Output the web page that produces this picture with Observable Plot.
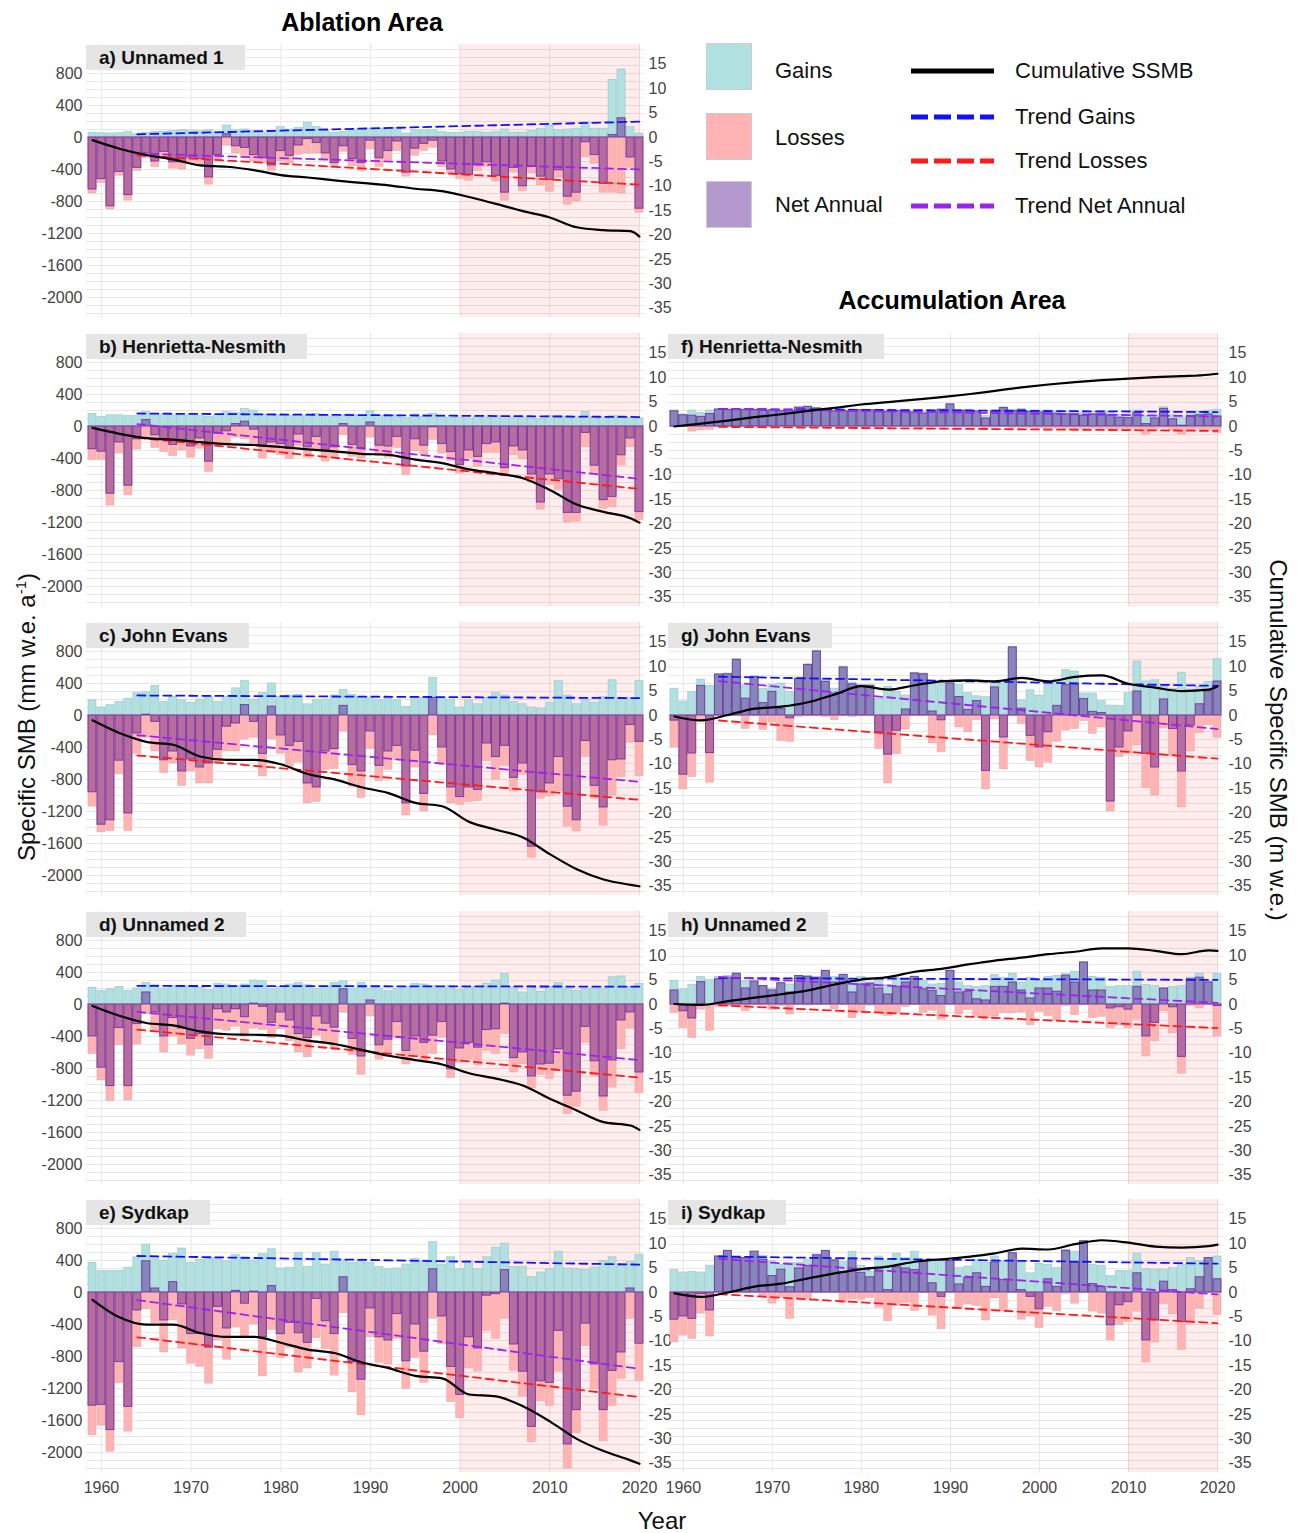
<!DOCTYPE html>
<html><head><meta charset="utf-8">
<script src="https://cdn.jsdelivr.net/npm/d3@7"></script>
<script src="https://cdn.jsdelivr.net/npm/@observablehq/plot@0.6"></script>
<style>
body{margin:0;background:#fff;}
#root{position:relative;width:1299px;height:1533px;font-family:"Liberation Sans",Arial,sans-serif;overflow:hidden;background:#fff;}
.pan{position:absolute;}
.strip{position:absolute;background:#e5e5e5;font-weight:bold;font-size:19px;line-height:25px;height:25px;padding:0 21px 0 13px;color:#111;white-space:nowrap;}
.title{position:absolute;font-weight:bold;font-size:25px;transform:translate(-50%,-50%);white-space:nowrap;color:#000;}
.axt{position:absolute;font-size:24px;white-space:nowrap;color:#111;}
.lg{position:absolute;font-size:22px;color:#111;white-space:nowrap;transform:translateY(-50%);}
.sq{position:absolute;width:46px;height:47px;box-sizing:border-box;border:1px solid #ccc;}
</style></head>
<body><div id="root"></div>
<script>
// ---------- data ----------
const YEARS = d3.range(1959, 2021);
const CUM_YEARS = [1959,1962,1965,1968,1971,1974,1977,1980,1983,1986,1989,1992,1995,1998,2001,2004,2007,2010,2013,2016,2019,2020];
const TREND_YEARS = [1964, 2020];
const LEFT_TICKS = [800,400,0,-400,-800,-1200,-1600,-2000];
const RIGHT_TICKS = [15,10,5,0,-5,-10,-15,-20,-25,-30,-35];
const X_TICKS = [1960,1970,1980,1990,2000,2010,2020];

// a) Unnamed 1 (ablation)
const aGain = [60,55,50,55,70,40,60,70,75,80, 90,85,80,90,70,150,90,100,80,60, 70,130,100,120,185,130,80,60,70,90, 100,110,110,120,120,50,90,90,90,70, 60,60,70,70,60,70,100,60,60,80, 110,150,90,100,110,190,110,110,720,850, 130,50];
const aLoss = [-700,-570,-900,-480,-790,-420,-260,-370,-250,-390, -400,-330,-350,-590,-290,-100,-200,-230,-300,-320, -420,-300,-330,-220,-200,-200,-280,-380,-180,-360, -420,-150,-370,-290,-170,-490,-230,-170,-130,-370, -460,-520,-540,-420,-370,-550,-790,-440,-670,-450, -600,-680,-500,-840,-800,-250,-330,-690,-690,-700, -380,-940];
const aNet = [-650,-520,-860,-430,-720,-380,-200,-300,-180,-310, -310,-250,-270,-500,-220,40,-110,-130,-220,-260, -350,-170,-230,-100,-20,-70,-200,-320,-110,-270, -320,-40,-260,-170,-50,-440,-140,-80,-40,-300, -400,-460,-470,-350,-310,-480,-690,-380,-610,-370, -490,-530,-410,-740,-690,-60,-220,-580,30,240, -250,-890];
const aCum = [-0.55,-2.3,-3.6,-4.5,-5.7,-6.0,-6.7,-7.7,-8.2,-8.8,-9.3,-9.8,-10.5,-11.0,-12.2,-13.6,-15.1,-16.4,-18.4,-19.0,-19.2,-20.3];
const aTrendGain = [40, 198], aTrendLoss = [-223, -590], aTrendNet = [-200, -400];

// b) Henrietta-Nesmith (ablation)
const bGain = [160,120,140,140,130,130,180,160,150,140, 130,140,130,120,140,180,170,220,200,150, 130,140,130,150,130,160,140,120,140,150, 130,190,130,140,140,110,150,120,160,120, 110,110,100,120,110,130,100,110,110,100, 90,130,130,120,110,180,110,110,130,130, 110,100];
const bLoss = [-420,-420,-990,-340,-860,-290,-150,-270,-320,-370, -300,-390,-280,-570,-230,-240,-140,-160,-240,-400, -330,-360,-410,-250,-390,-290,-440,-380,-110,-380, -400,-140,-370,-390,-270,-610,-310,-360,-170,-340, -430,-590,-400,-500,-330,-330,-620,-360,-410,-700, -1040,-730,-790,-1200,-1190,-260,-600,-1030,-1010,-490, -260,-1170];
const bNet = [-285,-315,-840,-200,-740,-160,80,-110,-170,-230, -170,-250,-150,-440,-90,-60,30,60,-40,-250, -200,-220,-280,-100,-260,-130,-300,-260,30,-230, -270,50,-240,-250,-130,-500,-160,-240,-10,-220, -320,-480,-300,-380,-220,-200,-520,-250,-300,-600, -950,-600,-660,-1080,-1080,-80,-490,-920,-880,-360, -150,-1070];
const bCum = [-0.3,-1.5,-2.4,-2.7,-3.2,-3.6,-3.8,-4.2,-4.7,-5.1,-5.6,-5.8,-6.8,-7.5,-8.8,-9.6,-10.6,-13.0,-16.0,-17.5,-18.8,-19.7];
const bTrendGain = [162, 118], bTrendLoss = [-140, -780], bTrendNet = [30, -655];

// c) John Evans (ablation)
const cGain = [190,100,130,170,210,280,290,370,170,230, 190,160,200,230,170,230,340,430,200,280, 400,230,250,260,140,190,200,250,320,260, 230,220,190,210,190,110,230,220,470,220, 200,100,180,140,220,280,250,170,140,100, 80,160,430,250,140,200,160,230,440,220, 220,430];
const cLoss = [-1140,-1460,-1445,-735,-1445,-480,-280,-450,-720,-600, -880,-700,-850,-850,-600,-450,-450,-300,-280,-760, -300,-480,-640,-590,-1100,-1080,-680,-670,-200,-890, -1030,-420,-820,-680,-560,-1250,-650,-1200,-250,-620, -1100,-1120,-1080,-1070,-570,-800,-630,-950,-740,-1780, -1040,-1010,-950,-1390,-1450,-520,-1040,-1380,-1000,-770, -340,-760];
const cNet = [-960,-1365,-1310,-565,-1225,-225,10,-80,-560,-450, -700,-550,-650,-600,-430,-140,-100,130,-80,-480, 110,-250,-380,-330,-850,-900,-450,-420,120,-620, -700,-200,-630,-450,-380,-1100,-440,-980,220,-400, -900,-1020,-900,-930,-350,-520,-380,-780,-600,-1640, -960,-850,-520,-1140,-1310,-320,-880,-1150,-560,-550, -120,-330];
const cCum = [-1.0,-3.6,-5.4,-6.0,-8.4,-9.1,-9.1,-10.0,-12.0,-13.1,-14.7,-15.9,-17.9,-18.6,-21.8,-23.4,-25.0,-28.4,-31.5,-33.6,-34.7,-35.0];
const cTrendGain = [250, 217], cTrendLoss = [-500, -1055], cTrendNet = [-247, -830];

// d) Unnamed 2 (ablation)
const dGain = [210,170,190,220,170,200,270,240,200,230, 220,230,210,180,260,250,230,250,300,290, 190,220,250,270,240,200,230,270,290,200, 270,200,200,170,200,220,260,250,230,200, 230,180,210,220,260,300,380,210,150,230, 160,220,270,200,170,190,200,200,340,350, 220,260];
const dLoss = [-620,-950,-1210,-510,-1200,-500,-120,-340,-600,-400, -500,-640,-560,-680,-310,-330,-280,-400,-300,-320, -420,-310,-460,-600,-660,-390,-480,-560,-100,-630, -880,-150,-690,-620,-420,-750,-650,-700,-620,-420, -920,-730,-690,-760,-580,-620,-370,-850,-750,-1050, -880,-930,-830,-1370,-1280,-480,-900,-1330,-1040,-560, -300,-1110];
const dNet = [-400,-790,-1020,-295,-1020,-245,150,-100,-400,-170, -300,-430,-370,-510,-60,-100,-60,-160,10,-30, -230,-100,-200,-370,-420,-150,-240,-290,190,-430, -650,50,-510,-440,-220,-580,-400,-480,-390,-220, -810,-550,-480,-540,-320,-310,10,-670,-600,-900, -750,-740,-560,-1140,-1090,-280,-710,-1150,-700,-200, -100,-850];
const dCum = [-0.3,-2.3,-3.8,-4.3,-5.5,-6.1,-6.2,-6.4,-7.4,-8.1,-9.3,-10.5,-11.4,-12.3,-14.1,-15.2,-16.6,-19.3,-21.7,-24.1,-24.8,-25.7];
const dTrendGain = [232, 223], dTrendLoss = [-315, -915], dTrendNet = [-93, -695];

// e) Sydkap (ablation)
const eGain = [370,270,270,270,310,440,600,430,400,480, 550,370,410,430,420,390,470,440,400,480, 540,300,310,490,320,490,350,510,400,370, 410,370,320,290,300,350,420,400,630,350, 440,290,390,290,440,560,610,320,320,190, 250,290,510,300,290,280,310,390,440,330, 380,470];
const eLoss = [-1785,-1665,-1990,-1135,-1740,-685,-210,-380,-750,-350, -700,-890,-930,-1140,-600,-840,-440,-550,-400,-1050, -470,-820,-690,-1000,-950,-570,-710,-1040,-260,-1250, -1535,-560,-880,-900,-580,-1210,-820,-1130,-330,-650, -1370,-1570,-950,-990,-480,-580,-330,-980,-1300,-1870, -1360,-1420,-990,-2200,-1760,-670,-1210,-1860,-1420,-1080, -330,-1110];
const eNet = [-1415,-1405,-1720,-870,-1430,-225,390,50,-350,130, -150,-520,-520,-690,-180,-450,20,-140,10,-560, 80,-520,-380,-510,-630,-80,-360,-520,190,-870, -1090,-200,-560,-600,-270,-860,-400,-740,290,-300, -930,-1280,-560,-700,-40,-20,280,-650,-990,-1680, -1110,-1130,-480,-1900,-1470,-390,-900,-1470,-980,-750, 50,-640];
const eCum = [-1.5,-5.1,-6.6,-6.6,-8.3,-9.1,-9.1,-10.3,-11.7,-12.4,-14.3,-15.5,-17.1,-17.6,-20.9,-21.3,-23.3,-26.4,-30.0,-32.5,-34.4,-35.1];
const eTrendGain = [456, 348], eTrendLoss = [-560, -1307], eTrendNet = [-95, -955];

// f) Henrietta-Nesmith (accumulation)
const fGain = [200,150,200,170,200,220,210,210,210,210, 200,210,200,200,240,250,230,210,200,200, 200,210,210,200,200,200,200,190,180,200, 220,280,210,210,200,130,200,240,210,220, 200,200,200,190,180,180,170,180,190,180, 150,150,200,130,140,240,140,110,180,180, 200,210];
const fLoss = [-10,-10,-65,-50,-45,-10,-5,-5,-5,-5, -5,-10,-10,-10,-5,-5,-5,-10,-10,-10, -10,-10,-10,-15,-15,-10,-10,-15,-20,-15, -15,-5,-15,-15,-15,-30,-15,-10,-20,-15, -20,-25,-25,-30,-30,-30,-35,-30,-30,-40, -40,-45,-30,-100,-40,-20,-50,-100,-50,-40, -50,-85];
const fNet = [190,140,135,120,155,210,205,205,205,205, 195,200,190,190,235,245,225,200,190,190, 190,200,200,185,185,190,190,175,160,185, 205,275,195,195,185,100,185,230,190,205, 180,175,175,160,150,150,135,150,160,140, 110,105,170,30,100,220,90,10,130,140, 150,125];
const fCum = [0,0.6,1.2,1.9,2.5,3.2,3.8,4.5,5.0,5.5,6.0,6.6,7.3,8.0,8.6,9.1,9.5,9.8,10.1,10.3,10.6,10.8];
const fTrendGain = [219, 180], fTrendLoss = [-5, -55], fTrendNet = [220, 125];

// g) John Evans (accumulation)
const gGain = [335,175,295,450,370,520,525,705,380,490, 335,385,400,295,475,640,810,440,335,610, 410,380,380,210,360,295,250,535,525,400, 400,410,380,280,240,230,400,400,860,190, 315,250,380,450,570,550,275,275,180,125, 120,280,675,425,440,360,335,535,325,360, 420,705];
const gLoss = [-400,-925,-770,-80,-840,-10,-10,-10,-170,-10, -180,-90,-320,-330,-20,-10,-10,-20,-60,-10, -20,-10,-10,-420,-850,-485,-175,-10,-10,-350, -460,-10,-150,-210,-60,-925,-50,-675,-10,-105, -570,-650,-590,-330,-190,-170,-70,-230,-150,-1200, -520,-480,-375,-905,-1000,-160,-500,-1150,-450,-220, -120,-280];
const gNet = [-65,-740,-475,370,-470,510,515,695,210,480, 155,295,80,-35,455,630,800,420,275,600, 390,370,370,-210,-490,-190,75,525,515,50, -60,400,230,70,180,-695,350,-275,850,85, -255,-400,-210,120,380,380,205,45,30,-1075, -400,-200,300,-480,-650,200,-170,-700,-125,140, 300,425];
const gCum = [-0.2,-1.0,0.1,1.4,1.8,2.7,4.3,6.0,5.3,6.2,7.0,7.2,7.0,7.7,7.0,7.9,8.2,6.5,5.7,5.0,5.3,6.0];
const gTrendGain = [485, 370], gTrendLoss = [-63, -540], gTrendNet = [430, -170];

// h) Unnamed 2 (accumulation)
const hGain = [295,190,245,345,305,345,360,385,295,295, 230,200,275,250,360,360,335,420,345,370, 315,345,275,305,245,330,305,345,295,250, 260,420,275,230,220,230,370,330,385,275, 335,295,345,360,380,410,525,345,330,220, 230,230,410,245,230,200,220,230,335,385, 285,380];
const hLoss = [-105,-295,-420,-65,-330,-30,-25,-10,-85,-10, -10,-65,-20,-125,-10,-15,-10,-10,-60,-10, -170,-95,-15,-105,-145,-110,-30,-10,-105,-80, -190,-10,-125,-70,-155,-180,-150,-110,-110,-100, -260,-95,-145,-200,-20,-135,-10,-170,-155,-295, -265,-295,-190,-650,-460,-85,-360,-865,-20,-50, -10,-400];
const hNet = [175,-85,-175,280,0,315,335,385,200,285, 230,175,265,150,355,345,335,420,275,370, 150,250,260,200,125,220,275,345,190,170, 105,420,150,160,65,50,220,220,275,175, 75,200,200,160,360,275,525,175,175,-50, -35,-65,220,-400,-230,200,-35,-655,315,335, 275,-20];
const hCum = [0.1,-0.1,0.7,1.4,2.1,2.9,4.1,5.1,5.6,6.7,7.3,8.2,9.0,9.6,10.3,10.8,11.5,11.5,11.0,10.3,11.1,11.0];
const hTrendGain = [330, 307], hTrendLoss = [-10, -295], hTrendNet = [345, 20];

// i) Sydkap (accumulation)
const iGain = [280,250,260,250,335,450,520,430,430,510, 460,390,345,370,370,410,475,520,410,380, 510,335,260,450,390,485,430,510,400,410, 400,390,305,325,410,370,450,390,490,370, 240,360,345,305,535,510,640,345,335,205, 270,270,480,290,280,280,305,345,430,390, 430,450];
const iLoss = [-625,-540,-580,-265,-550,-10,-10,-10,-10,-10, -50,-140,-60,-330,-70,-80,-10,-10,-10,-130, -85,-90,-70,-190,-360,-170,-130,-230,-10,-290, -460,-10,-200,-150,-170,-350,-75,-230,-10,-340, -300,-445,-180,-235,-20,-140,-10,-240,-265,-600, -410,-370,-240,-875,-625,-145,-275,-720,-390,-200, -10,-285];
const iNet = [-340,-300,-330,-20,-225,450,520,430,430,510, 410,205,285,65,300,330,465,520,400,250, 425,245,190,260,30,315,300,280,400,115, -55,395,100,180,240,70,375,155,490,30, -55,-210,165,70,520,375,640,105,70,-410, -160,-120,240,-600,-350,135,30,-370,40,190, 430,165];
const iCum = [-0.2,-0.9,0,1.2,1.8,2.9,3.9,4.8,5.3,6.3,6.8,7.3,8.0,9.0,8.8,9.9,10.7,10.2,9.4,9.2,9.5,9.8];
const iTrendGain = [450, 360], iTrendLoss = [-20, -385], iTrendNet = [420, -25];

// ---------- style ----------
const K = 61; // mm on the primary axis per m on the secondary axis
const Y_DOMAIN = [-2250, 1162];
const X_DOMAIN = [1958.33, 2020.56];
const GAIN_FILL = "#b0e0e0", LOSS_FILL = "#ffb3b3", NET_FILL = "#4b0082", NET_STROKE = "#6b2fa0";
const BLUE = "#1010ff", RED = "#ff1a1a", PURPLE = "#a020f0";
const PANEL_H = 273;
const ROW_TOPS = [44, 333, 622, 911, 1199];

const root = document.getElementById("root");

function makePanel(p, {side, row, showX, shadeFrom}) {
  const left = side === "left" ? 0 : 660;
  const W = side === "left" ? 680 : 639;
  const mL = side === "left" ? 86 : 8;
  const mR = side === "left" ? 36 : 77;
  const mB = showX ? 34 : 0;
  const rows = YEARS.map((year, i) => ({year, gain: p.gain[i], loss: p.loss[i], net: p.net[i]}));
  const cum = CUM_YEARS.map((year, i) => ({year, v: p.cum[i] * K}));
  const trend = vals => TREND_YEARS.map((year, i) => ({year, v: vals[i]}));
  const bx1 = d => d.year - 0.45, bx2 = d => d.year + 0.45;
  const marks = [
    Plot.ruleY(d3.range(-2200, 1200, 100), {stroke: "#e7e7e7", strokeWidth: 1}),
    Plot.ruleX(X_TICKS, {stroke: "#e7e7e7", strokeWidth: 1}),
    Plot.rect([{x1: shadeFrom, x2: 2020.1}], {x1: "x1", x2: "x2", y1: Y_DOMAIN[0], y2: Y_DOMAIN[1], fill: "#ff0000", fillOpacity: 0.075}),
    Plot.rect(rows, {x1: bx1, x2: bx2, y1: 0, y2: "gain", fill: GAIN_FILL, stroke: "#8fb3b3", strokeOpacity: 0.7, strokeWidth: 0.6}),
    Plot.rect(rows, {x1: bx1, x2: bx2, y1: 0, y2: "loss", fill: LOSS_FILL, stroke: "#d99", strokeOpacity: 0.6, strokeWidth: 0.6}),
    Plot.rect(rows, {x1: bx1, x2: bx2, y1: 0, y2: "net", fill: NET_FILL, fillOpacity: 0.4, stroke: NET_STROKE, strokeOpacity: 0.85, strokeWidth: 1}),
    Plot.line(trend(p.tGain), {x: "year", y: "v", stroke: BLUE, strokeWidth: 1.8, strokeDasharray: "8,5"}),
    Plot.line(trend(p.tLoss), {x: "year", y: "v", stroke: RED, strokeWidth: 1.8, strokeDasharray: "8,5"}),
    Plot.line(trend(p.tNet), {x: "year", y: "v", stroke: PURPLE, strokeWidth: 1.8, strokeDasharray: "8,5"}),
    Plot.line(cum, {x: "year", y: "v", stroke: "#000", strokeWidth: 2.2, curve: "monotone-x"}),
    Plot.axisY({anchor: "right", ticks: RIGHT_TICKS.map(v => v * K), tickSize: 0, tickPadding: side === "left" ? 4 : 6,
      tickFormat: d => String(Math.round(d / K)), label: null})
  ];
  if (side === "left") {
    marks.push(Plot.axisY({anchor: "left", ticks: LEFT_TICKS, tickSize: 0, tickPadding: 4, tickFormat: d => String(d), label: null}));
  }
  if (showX) {
    marks.push(Plot.axisX({ticks: X_TICKS, tickSize: 0, tickPadding: 9, tickFormat: d => String(d), label: null}));
  }
  const svg = Plot.plot({
    width: W, height: PANEL_H + mB,
    marginTop: 0, marginBottom: mB, marginLeft: mL, marginRight: mR,
    x: showX ? {domain: X_DOMAIN} : {domain: X_DOMAIN, axis: null},
    y: {domain: Y_DOMAIN},
    style: {background: "transparent", fontFamily: "Liberation Sans, Arial, sans-serif", fontSize: "16px", color: "#444", overflow: "visible"},
    marks
  });
  const wrap = document.createElement("div");
  wrap.className = "pan";
  wrap.style.left = left + "px";
  wrap.style.top = ROW_TOPS[row] + "px";
  wrap.appendChild(svg);
  root.appendChild(wrap);
  const strip = document.createElement("div");
  strip.className = "strip";
  strip.textContent = p.label;
  strip.style.left = (side === "left" ? 86 : 668) + "px";
  strip.style.top = (ROW_TOPS[row] + 1) + "px";
  root.appendChild(strip);
}

const P = (label, gain, loss, net, cum, tGain, tLoss, tNet) => ({label, gain, loss, net, cum, tGain, tLoss, tNet});
makePanel(P("a) Unnamed 1", aGain, aLoss, aNet, aCum, aTrendGain, aTrendLoss, aTrendNet), {side: "left", row: 0, shadeFrom: 2000});
makePanel(P("b) Henrietta-Nesmith", bGain, bLoss, bNet, bCum, bTrendGain, bTrendLoss, bTrendNet), {side: "left", row: 1, shadeFrom: 2000});
makePanel(P("c) John Evans", cGain, cLoss, cNet, cCum, cTrendGain, cTrendLoss, cTrendNet), {side: "left", row: 2, shadeFrom: 2000});
makePanel(P("d) Unnamed 2", dGain, dLoss, dNet, dCum, dTrendGain, dTrendLoss, dTrendNet), {side: "left", row: 3, shadeFrom: 2000});
makePanel(P("e) Sydkap", eGain, eLoss, eNet, eCum, eTrendGain, eTrendLoss, eTrendNet), {side: "left", row: 4, shadeFrom: 2000, showX: true});
makePanel(P("f) Henrietta-Nesmith", fGain, fLoss, fNet, fCum, fTrendGain, fTrendLoss, fTrendNet), {side: "right", row: 1, shadeFrom: 2010});
makePanel(P("g) John Evans", gGain, gLoss, gNet, gCum, gTrendGain, gTrendLoss, gTrendNet), {side: "right", row: 2, shadeFrom: 2010});
makePanel(P("h) Unnamed 2", hGain, hLoss, hNet, hCum, hTrendGain, hTrendLoss, hTrendNet), {side: "right", row: 3, shadeFrom: 2010});
makePanel(P("i) Sydkap", iGain, iLoss, iNet, iCum, iTrendGain, iTrendLoss, iTrendNet), {side: "right", row: 4, shadeFrom: 2010, showX: true});

// ---------- titles ----------
function addDiv(cls, html, css) {
  const el = document.createElement("div");
  el.className = cls;
  el.innerHTML = html;
  Object.assign(el.style, css);
  root.appendChild(el);
  return el;
}
addDiv("title", "Ablation Area", {left: "362px", top: "22px"});
addDiv("title", "Accumulation Area", {left: "952px", top: "300px"});
addDiv("axt", "Year", {left: "662px", top: "1521px", transform: "translate(-50%,-50%)"});
addDiv("axt", "Specific SMB (mm w.e. a<sup style='font-size:15px'>-1</sup>)", {left: "26px", top: "717px", transform: "translate(-50%,-50%) rotate(-90deg)"});
addDiv("axt", "Cumulative Specific SMB (m w.e.)", {left: "1278px", top: "740px", transform: "translate(-50%,-50%) rotate(90deg)"});

// ---------- legend ----------
const LEGEND_BOXES = [["Gains", GAIN_FILL, 43, 71], ["Losses", LOSS_FILL, 113, 138], ["Net Annual", "#b399cd", 181, 205]];
for (const [name, fill, top, cy] of LEGEND_BOXES) {
  addDiv("sq", "", {left: "706px", top: top + "px", background: fill});
  addDiv("lg", name, {left: "775px", top: cy + "px"});
}
const LEGEND_LINES = [["Cumulative SSMB", "#000", null, 71], ["Trend Gains", BLUE, "17,6", 117], ["Trend Losses", RED, "17,6", 161], ["Trend Net Annual", PURPLE, "17,6", 206]];
const ns = "http://www.w3.org/2000/svg";
const lsvg = document.createElementNS(ns, "svg");
lsvg.setAttribute("width", 100); lsvg.setAttribute("height", 240);
lsvg.style.position = "absolute"; lsvg.style.left = "905px"; lsvg.style.top = "0px";
for (const [name, color, dash, cy] of LEGEND_LINES) {
  const ln = document.createElementNS(ns, "line");
  ln.setAttribute("x1", 6); ln.setAttribute("x2", 89);
  ln.setAttribute("y1", cy); ln.setAttribute("y2", cy);
  ln.setAttribute("stroke", color); ln.setAttribute("stroke-width", 5);
  if (dash) ln.setAttribute("stroke-dasharray", dash);
  lsvg.appendChild(ln);
  addDiv("lg", name, {left: "1015px", top: cy + "px"});
}
root.appendChild(lsvg);
</script>
</body></html>
